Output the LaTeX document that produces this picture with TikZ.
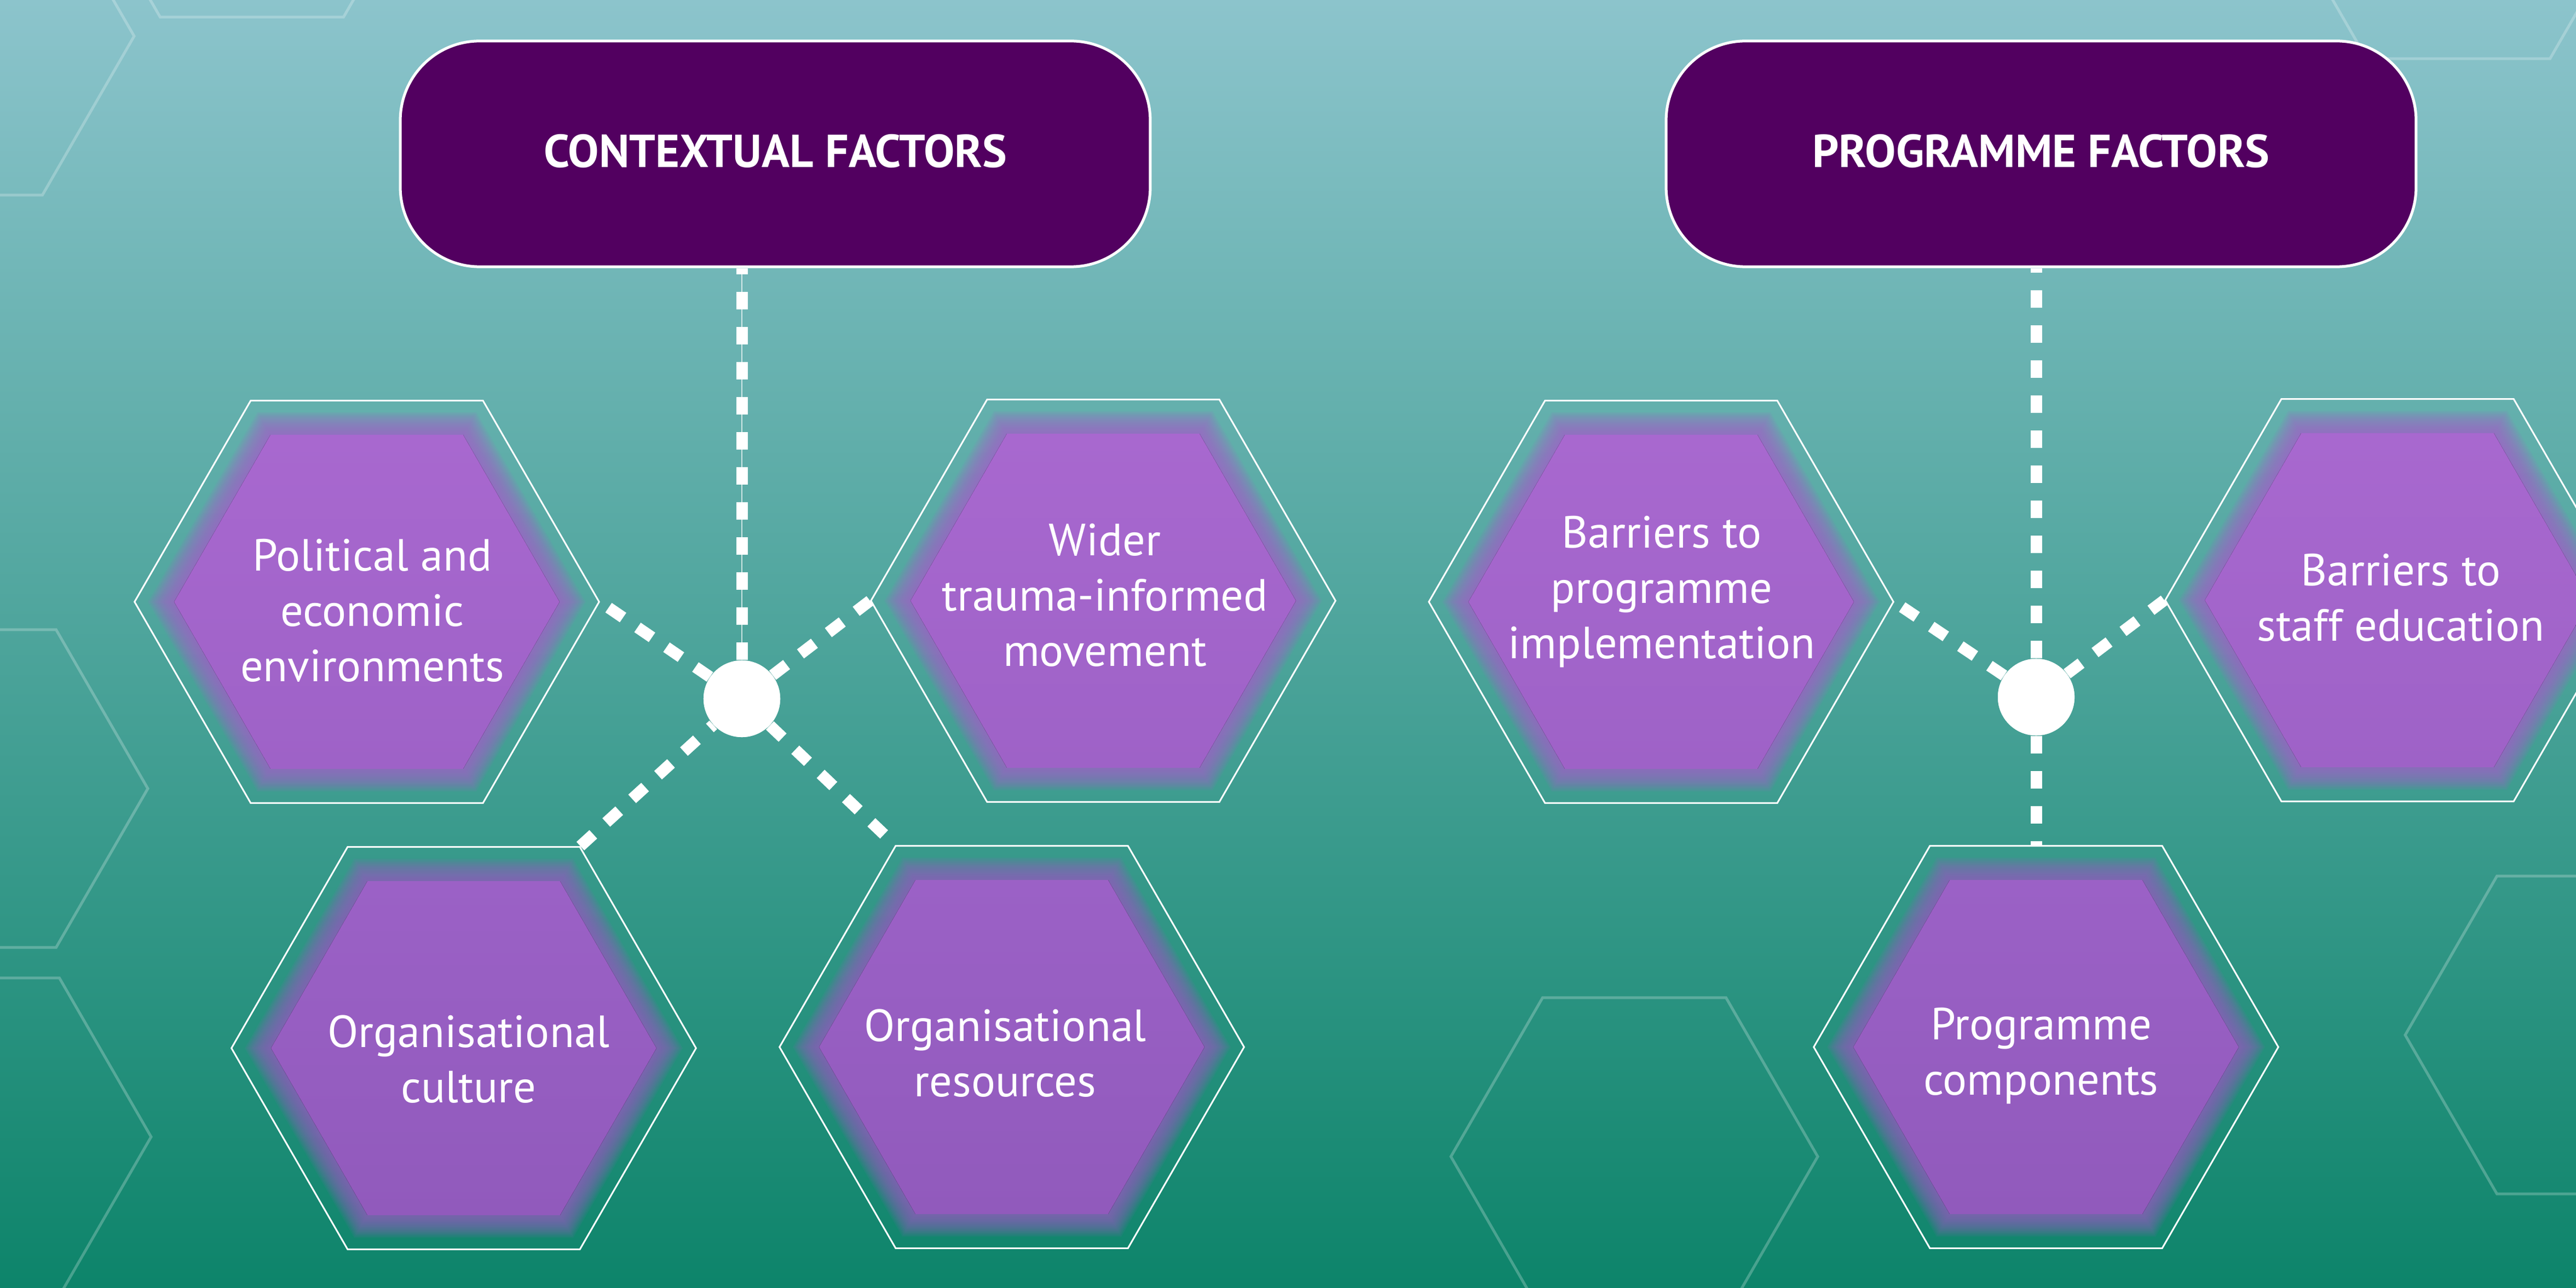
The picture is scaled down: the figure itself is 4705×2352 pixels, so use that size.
\documentclass[tikz,border=0pt]{standalone}
\usepackage{fontspec}
\setmainfont{PT Sans}
\usepackage{tikz}
\usetikzlibrary{shapes.geometric}

\definecolor{tealtop}{HTML}{8CC4CC}
\definecolor{tealmid}{HTML}{52A79F}
\definecolor{tealbot}{HTML}{0D846A}
\definecolor{plum}{HTML}{520060}
\definecolor{lilacA}{HTML}{A868CF}
\definecolor{lilacB}{HTML}{9E62C7}
\definecolor{lilacC}{HTML}{9B61C6}
\definecolor{lilacD}{HTML}{915ABC}

% soft-edged purple hexagon: centre, top colour, bottom colour
\newcommand\lilachex[3]{%
  \foreach \k in {0,...,15}{
    \pgfmathsetmacro\rr{400-3*\k}
    \fill[#2!50!#3, fill opacity=0.09]
      (#1) +(0:\rr) -- +(60:\rr) -- +(120:\rr) -- +(180:\rr) -- +(240:\rr) -- +(300:\rr) -- cycle;
  }
  \fill[top color=#2, bottom color=#3]
    (#1) +(0:352) -- +(60:352) -- +(120:352) -- +(180:352) -- +(240:352) -- +(300:352) -- cycle;
}

\begin{document}
\begin{tikzpicture}[x=0.01cm, y=-0.01cm,
        titlebox/.style={draw=white, line width=0.05cm, fill=plum, rounded corners=1.45cm,
            minimum width=13.69cm, minimum height=4.12cm, inner sep=0pt, text=white,
            text depth=0.12cm, font=\bfseries\fontsize{24}{29}\selectfont},
        hexbox/.style={regular polygon, regular polygon sides=6, minimum size=8.48cm,
            inner sep=0pt, draw=white, line width=0.03cm},
        hub/.style={circle, fill=white, minimum size=1.4cm, inner sep=0pt},
        lbl/.style={text=white, align=center, anchor=base, font=\fontsize{23.4}{28.7}\selectfont},
        conn/.style={draw=white, line width=0.21cm, dash pattern=on 0.32cm off 0.32cm},
        bghex/.style={draw=white, draw opacity=0.24, line width=0.05cm}]
    \useasboundingbox (0,0) rectangle (4705,2352);
    \clip (0,0) rectangle (4705,2352);
    \fill[top color=tealtop, middle color=tealmid, bottom color=tealbot] (0,0) rectangle (4705,2352);
    \foreach \cx/\cy in {-90/66, 460/-259, 4490/-183, -65/1440, -59/2076, 2985/2112, 4728/1890}
        \draw[bghex] (\cx,\cy) +(0:335) -- +(60:335) -- +(120:335) -- +(180:335) -- +(240:335) -- +(300:335) -- cycle;

    \lilachex{670,1099}{lilacA}{lilacB}
    \lilachex{2015,1097}{lilacA}{lilacB}
    \lilachex{847,1914}{lilacC}{lilacD}
    \lilachex{1848,1912}{lilacC}{lilacD}
    \lilachex{3034,1099}{lilacA}{lilacB}
    \lilachex{4379,1096}{lilacA}{lilacB}
    \lilachex{3737,1912}{lilacC}{lilacD}

    \node[hexbox] (pol) at (670,1099) {};
    \node[hexbox] (wid) at (2015,1097) {};
    \node[hexbox] (cul) at (847,1914) {};
    \node[hexbox] (res) at (1848,1912) {};
    \node[hexbox] (bpi) at (3034,1099) {};
    \node[hexbox] (bse) at (4379,1096) {};
    \node[hexbox] (pco) at (3737,1912) {};

    \node[titlebox] (ctx) at (1416,281) {CONTEXTUAL FACTORS};
    \node[titlebox] (prg) at (3728,281) {PROGRAMME FACTORS};

    \node[hub] (hubA) at (1355,1276) {};
    \node[hub] (hubB) at (3719,1273) {};

    \draw[white, line width=0.02cm, opacity=0.7] (hubA) -- (hubA |- ctx.south);
    \path[conn]
    (hubA) edge (hubA |- ctx.south)
    (hubA) edge (pol.0)
    (hubA) edge (wid.180)
    (cul.60) edge (hubA)
    (hubA) edge (res.120)
    (hubB) edge (hubB |- prg.south)
    (hubB) edge (bpi.0)
    (hubB) edge (bse.180)
    (hubB) edge (hubB |- pco.north);
    \node[hub] at (hubA) {};
    \node[hub] at (hubB) {};

    % anchor=base sits on the last line
    \node[lbl] (tpol) at (680,1244) {Political and\\economic\\environments};
    \node[lbl] (twid) at (2018,1216) {Wider\\trauma-informed\\movement};
    \node[lbl] (tcul) at (856,2013) {Organisational\\culture};
    \node[lbl] (tres) at (1836,2002) {Organisational\\resources};
    \node[lbl] (tbpi) at (3035,1202) {Barriers to\\programme\\implementation};
    \node[lbl] (tbse) at (4385,1170) {Barriers to\\staff education};
    \node[lbl] (tpco) at (3728,1999) {Programme\\components};
\end{tikzpicture}
\end{document}
